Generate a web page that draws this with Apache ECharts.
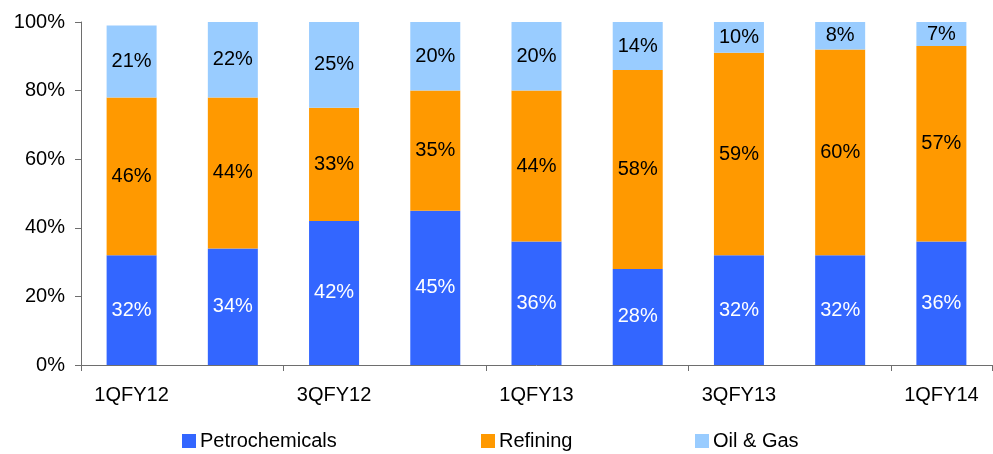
<!DOCTYPE html>
<html>
<head>
<meta charset="utf-8">
<script src="https://cdn.jsdelivr.net/npm/echarts@6/dist/echarts.min.js"></script>
<style>
  html, body { margin: 0; padding: 0; background: #ffffff; }
  #chart { width: 993px; height: 454px; }
</style>
</head>
<body>
<div id="chart"></div>
<script>
// Quarterly segment mix (% share of total)
const quarters = ['1QFY12', '2QFY12', '3QFY12', '4QFY12', '1QFY13', '2QFY13', '3QFY13', '4QFY13', '1QFY14'];
const petrochemicals = [32, 34, 42, 45, 36, 28, 32, 32, 36];
const refining = [46, 44, 33, 35, 44, 58, 59, 60, 57];
const oilGas = [21, 22, 25, 20, 20, 14, 10, 8, 7];
const segmentNames = ['Petrochemicals', 'Refining', 'Oil & Gas'];

const FONT = '"Liberation Sans", Arial, sans-serif';
const AXIS_GREY = '#6e6e6e';

function segment(name, data, color, labelColor) {
  return {
    name: name,
    type: 'bar',
    stack: 'mix',
    data: data,
    barWidth: 50,
    clip: true,
    itemStyle: { color: color },
    label: {
      show: true,
      position: 'inside',
      formatter: '{c}%',
      color: labelColor,
      fontFamily: FONT,
      fontSize: 20
    }
  };
}

// one legend entry per block so each sits at its own x position
const legendLefts = [177, 476, 690];
const legends = segmentNames.map(function (name, i) {
  return {
    left: legendLefts[i],
    top: 426,
    itemWidth: 14,
    itemHeight: 14,
    icon: 'rect',
    textStyle: { fontFamily: FONT, fontSize: 20, color: '#000000', padding: [0, 0, 0, -1] },
    data: [name]
  };
});

const chart = echarts.init(document.getElementById('chart'), null, { renderer: 'canvas' });
chart.setOption({
  animation: false,
  backgroundColor: '#ffffff',
  grid: { left: 81, right: 1, top: 22, bottom: 89, containLabel: false },
  legend: legends,
  xAxis: {
    type: 'category',
    data: quarters,
    axisLine: { lineStyle: { color: AXIS_GREY, width: 1 } },
    axisTick: { show: true, length: 6, lineStyle: { color: AXIS_GREY } },
    axisLabel: {
      interval: 1,
      margin: 20,
      color: '#000000',
      fontFamily: FONT,
      fontSize: 20
    }
  },
  yAxis: {
    type: 'value',
    min: 0,
    max: 100,
    interval: 20,
    axisLine: { show: true, lineStyle: { color: AXIS_GREY, width: 1 } },
    axisTick: { show: true, length: 6, lineStyle: { color: AXIS_GREY } },
    splitLine: { show: false },
    axisLabel: {
      formatter: '{value}%',
      margin: 16,
      color: '#000000',
      fontFamily: FONT,
      fontSize: 20
    }
  },
  series: [
    segment(segmentNames[0], petrochemicals, '#3366FF', '#ffffff'),
    segment(segmentNames[1], refining, '#FF9900', '#000000'),
    segment(segmentNames[2], oilGas, '#99CCFF', '#000000')
  ]
});
</script>
</body>
</html>
